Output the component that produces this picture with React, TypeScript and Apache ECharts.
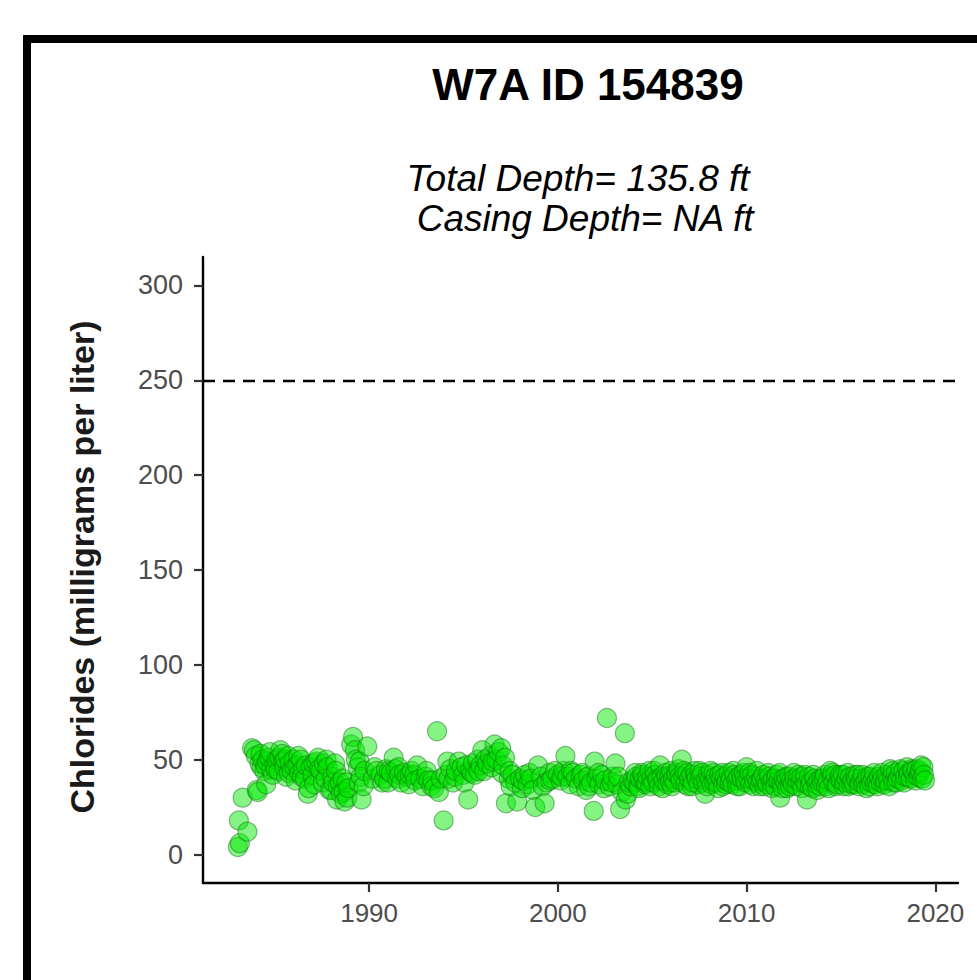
import React, { useEffect, useRef } from "react";
import * as echarts from "echarts";

const chartTitle = "W7A ID 154839";
const subtitleLines = ["Total Depth= 135.8 ft", " Casing Depth= NA ft"];
const yAxisTitle = "Chlorides (milligrams per liter)";
const xTickValues = [1990, 2000, 2010, 2020];
const yTickValues = [0, 50, 100, 150, 200, 250, 300];
const xRange = [1981.2, 2021.2];
const yRange = [-15, 315];
const thresholdValue = 250;

// [decimal year, chlorides mg/L]
const samples1983to1990 = [
  [1983.05, 4], [1983.15, 6], [1983.1, 18], [1983.55, 12], [1983.3, 30],
  [1983.8, 56], [1983.9, 55], [1984.0, 52], [1984.05, 34], [1984.1, 33],
  [1984.2, 48], [1984.25, 53], [1984.3, 46], [1984.35, 50], [1984.45, 44],
  [1984.5, 47], [1984.55, 37], [1984.6, 49], [1984.7, 51], [1984.75, 54],
  [1984.8, 45], [1984.9, 42], [1985.0, 47], [1985.05, 45], [1985.1, 50],
  [1985.2, 44], [1985.25, 51], [1985.3, 55], [1985.4, 53], [1985.45, 49],
  [1985.5, 46], [1985.55, 50], [1985.6, 41], [1985.7, 52], [1985.75, 43],
  [1985.8, 48], [1985.9, 44], [1986.0, 50], [1986.05, 46], [1986.1, 39],
  [1986.2, 47], [1986.25, 52], [1986.3, 43], [1986.4, 50], [1986.45, 41],
  [1986.5, 45], [1986.6, 40], [1986.65, 47], [1986.75, 32], [1986.8, 35],
  [1986.9, 46], [1987.0, 42], [1987.05, 48], [1987.1, 37], [1987.2, 49],
  [1987.3, 51], [1987.35, 45], [1987.45, 44], [1987.55, 38], [1987.6, 48],
  [1987.7, 40], [1987.75, 50], [1987.8, 46], [1987.9, 34], [1988.0, 34],
  [1988.05, 41], [1988.1, 38], [1988.2, 48], [1988.25, 44], [1988.3, 29],
  [1988.35, 36], [1988.45, 38], [1988.5, 32], [1988.6, 40], [1988.65, 33],
  [1988.7, 28], [1988.8, 38], [1988.85, 30], [1988.9, 35], [1989.05, 58],
  [1989.15, 62], [1989.25, 55], [1989.3, 50], [1989.4, 46], [1989.45, 38],
  [1989.5, 49], [1989.55, 41], [1989.6, 29], [1989.7, 36], [1989.75, 44],
  [1989.9, 57],
];

const samples1990to2004 = [
  [1990.2, 40], [1990.3, 46], [1990.4, 44], [1990.6, 42], [1990.7, 38],
  [1990.8, 40], [1990.9, 45], [1991.0, 38], [1991.05, 44], [1991.15, 43],
  [1991.3, 51], [1991.4, 45], [1991.5, 40], [1991.55, 46], [1991.6, 42],
  [1991.7, 38], [1991.85, 43], [1992.0, 41], [1992.1, 37], [1992.15, 42],
  [1992.25, 44], [1992.4, 42], [1992.45, 39], [1992.55, 47], [1992.7, 40],
  [1992.85, 36], [1993.0, 41], [1993.05, 44], [1993.15, 39], [1993.3, 36],
  [1993.35, 39], [1993.45, 35], [1993.6, 65], [1993.7, 33], [1993.8, 40],
  [1993.95, 18], [1994.05, 42], [1994.15, 49], [1994.2, 40], [1994.3, 45],
  [1994.45, 38], [1994.55, 41], [1994.6, 44], [1994.75, 49], [1994.9, 46],
  [1995.0, 42], [1995.05, 38], [1995.15, 47], [1995.25, 29], [1995.35, 44],
  [1995.45, 43], [1995.5, 48], [1995.6, 42], [1995.75, 50], [1995.8, 44],
  [1995.9, 47], [1996.0, 55], [1996.1, 44], [1996.15, 50], [1996.25, 48],
  [1996.4, 52], [1996.5, 46], [1996.55, 49], [1996.65, 58], [1996.75, 50],
  [1996.85, 54], [1997.0, 56], [1997.05, 43], [1997.1, 47], [1997.2, 51],
  [1997.25, 27], [1997.4, 40], [1997.45, 44], [1997.5, 36], [1997.6, 42],
  [1997.75, 38], [1997.85, 28], [1998.0, 40], [1998.1, 35], [1998.15, 39],
  [1998.25, 42], [1998.4, 37], [1998.5, 43], [1998.55, 40], [1998.7, 34],
  [1998.8, 25], [1998.95, 47], [1999.1, 41], [1999.2, 36], [1999.3, 27],
  [1999.4, 38], [1999.55, 43], [1999.6, 39], [1999.7, 40], [1999.85, 44],
  [2000.0, 42], [2000.15, 39], [2000.2, 41], [2000.3, 44], [2000.4, 52],
  [2000.5, 41], [2000.65, 37], [2000.7, 44], [2000.8, 43], [2000.95, 40],
  [2001.1, 36], [2001.2, 42], [2001.3, 43], [2001.35, 39], [2001.5, 34],
  [2001.6, 41], [2001.65, 36], [2001.75, 38], [2001.9, 23], [2001.95, 49],
  [2002.05, 40], [2002.15, 43], [2002.2, 37], [2002.35, 42], [2002.45, 35],
  [2002.5, 39], [2002.6, 72], [2002.75, 36], [2002.85, 38], [2002.9, 41],
  [2003.05, 48], [2003.15, 37], [2003.2, 41], [2003.3, 24], [2003.4, 33],
  [2003.55, 64], [2003.6, 29], [2003.7, 32], [2003.75, 38], [2003.85, 36],
  [2003.95, 39],
];

const samples2004to2020 = [
  [2004.05, 38], [2004.1, 43], [2004.15, 41], [2004.25, 36], [2004.3, 35],
  [2004.35, 40], [2004.45, 43], [2004.5, 42], [2004.55, 39], [2004.65, 37],
  [2004.7, 38], [2004.75, 41], [2004.85, 44], [2004.9, 36], [2004.95, 40],
  [2005.05, 38], [2005.1, 44], [2005.15, 42], [2005.25, 40], [2005.3, 39],
  [2005.35, 36], [2005.42, 47], [2005.5, 41], [2005.55, 35], [2005.6, 39],
  [2005.7, 43], [2005.75, 41], [2005.8, 37], [2005.9, 41], [2005.95, 38],
  [2006.0, 44], [2006.05, 36], [2006.1, 40], [2006.2, 38], [2006.25, 43],
  [2006.3, 42], [2006.4, 45], [2006.45, 41], [2006.5, 39], [2006.57, 50],
  [2006.65, 41], [2006.7, 44], [2006.75, 37], [2006.85, 43], [2006.9, 36],
  [2006.95, 40], [2007.05, 42], [2007.1, 36], [2007.15, 38], [2007.25, 44],
  [2007.3, 42], [2007.35, 40], [2007.45, 37], [2007.5, 44], [2007.55, 41],
  [2007.65, 43], [2007.7, 38], [2007.8, 32], [2007.85, 39], [2007.9, 36],
  [2007.95, 42], [2008.05, 40], [2008.1, 44], [2008.15, 37], [2008.25, 43],
  [2008.3, 38], [2008.35, 41], [2008.45, 38], [2008.5, 35], [2008.55, 42],
  [2008.65, 40], [2008.7, 43], [2008.75, 36], [2008.85, 41], [2008.9, 37],
  [2008.95, 39], [2009.05, 43], [2009.1, 38], [2009.15, 40], [2009.25, 37],
  [2009.3, 44], [2009.35, 42], [2009.45, 39], [2009.5, 36], [2009.55, 41],
  [2009.65, 36], [2009.7, 42], [2009.75, 40], [2009.85, 43], [2009.9, 40],
  [2009.95, 38], [2010.0, 46], [2010.1, 40], [2010.15, 43], [2010.2, 37],
  [2010.3, 42], [2010.35, 36], [2010.4, 39], [2010.5, 41], [2010.55, 44],
  [2010.6, 38], [2010.7, 36], [2010.75, 39], [2010.8, 40], [2010.9, 42],
  [2010.95, 36], [2011.0, 39], [2011.1, 37], [2011.15, 43], [2011.2, 41],
  [2011.3, 38], [2011.35, 35], [2011.4, 40], [2011.5, 36], [2011.55, 40],
  [2011.6, 42], [2011.7, 39], [2011.75, 43], [2011.78, 30], [2011.85, 37],
  [2011.9, 35], [2011.95, 40], [2012.05, 38], [2012.1, 41], [2012.15, 35],
  [2012.25, 41], [2012.3, 36], [2012.35, 39], [2012.45, 37], [2012.5, 43],
  [2012.55, 40], [2012.65, 36], [2012.7, 39], [2012.75, 42], [2012.85, 38],
  [2012.9, 41], [2012.95, 35], [2013.05, 39], [2013.1, 42], [2013.15, 37],
  [2013.2, 29], [2013.3, 41], [2013.35, 36], [2013.4, 38], [2013.5, 35],
  [2013.55, 42], [2013.6, 40], [2013.7, 37], [2013.75, 34], [2013.8, 39],
  [2013.9, 36], [2013.95, 40], [2014.0, 38], [2014.1, 40], [2014.15, 42],
  [2014.2, 36], [2014.3, 39], [2014.35, 35], [2014.43, 44], [2014.5, 41],
  [2014.55, 43], [2014.6, 38], [2014.7, 42], [2014.75, 36], [2014.8, 37],
  [2014.9, 40], [2014.95, 42], [2015.0, 39], [2015.1, 42], [2015.15, 36],
  [2015.2, 38], [2015.3, 40], [2015.35, 43], [2015.4, 36], [2015.5, 41],
  [2015.55, 37], [2015.6, 39], [2015.7, 37], [2015.75, 42], [2015.8, 40],
  [2015.9, 42], [2015.95, 36], [2016.0, 38], [2016.1, 40], [2016.15, 42],
  [2016.2, 37], [2016.3, 39], [2016.35, 35], [2016.4, 41], [2016.5, 36],
  [2016.55, 41], [2016.6, 38], [2016.7, 40], [2016.75, 43], [2016.8, 37],
  [2016.9, 39], [2016.95, 36], [2017.0, 41], [2017.1, 38], [2017.15, 43],
  [2017.2, 40], [2017.3, 37], [2017.35, 39], [2017.4, 42], [2017.5, 39],
  [2017.55, 36], [2017.6, 45], [2017.7, 41], [2017.75, 44], [2017.8, 38],
  [2017.9, 43], [2017.95, 38], [2018.0, 40], [2018.1, 42], [2018.15, 45],
  [2018.2, 39], [2018.3, 44], [2018.35, 38], [2018.4, 41], [2018.5, 46],
  [2018.55, 41], [2018.6, 43], [2018.7, 40], [2018.75, 45], [2018.8, 44],
  [2018.9, 42], [2018.95, 39], [2019.0, 45], [2019.1, 41], [2019.15, 43],
  [2019.2, 44], [2019.25, 47], [2019.3, 40], [2019.37, 46], [2019.4, 42],
  [2019.45, 39],
];

const FONT = "'Liberation Sans', Arial, Helvetica, sans-serif";

export default function App() {
  const ref = useRef<HTMLDivElement | null>(null);

  useEffect(() => {
    if (!ref.current) return;
    const chart = echarts.init(ref.current, undefined, { renderer: "svg" });
    const allSamples = [...samples1983to1990, ...samples1990to2004, ...samples2004to2020];

    chart.setOption({
      animation: false,
      backgroundColor: "#ffffff",
      grid: { left: 203, right: 19, top: 257, bottom: 97, containLabel: false, outerBoundsMode: "none" },
      graphic: [
        {
          type: "rect",
          shape: { x: 27, y: 39, width: 1000, height: 1000 },
          style: { fill: "none", stroke: "#000", lineWidth: 8 },
          silent: true,
        },
        {
          type: "text",
          x: 588,
          y: 84,
          style: {
            text: chartTitle,
            fontSize: 44,
            fontWeight: "bold",
            fontFamily: FONT,
            fill: "#000",
            align: "center",
            verticalAlign: "middle",
          },
        },
        {
          type: "text",
          x: 578,
          y: 178,
          style: {
            text: subtitleLines[0],
            fontSize: 37,
            fontStyle: "italic",
            fontFamily: FONT,
            fill: "#000",
            align: "center",
            verticalAlign: "middle",
          },
        },
        {
          type: "text",
          x: 580,
          y: 218,
          style: {
            text: subtitleLines[1],
            fontSize: 37,
            fontStyle: "italic",
            fontFamily: FONT,
            fill: "#000",
            align: "center",
            verticalAlign: "middle",
          },
        },
        {
          type: "text",
          x: 82,
          y: 567,
          rotation: Math.PI / 2,
          style: {
            text: yAxisTitle,
            fontSize: 34,
            fontWeight: "bold",
            fontFamily: FONT,
            fill: "#1a1a1a",
            align: "center",
            verticalAlign: "middle",
          },
        },
      ],
      xAxis: {
        type: "value",
        min: xRange[0],
        max: xRange[1],
        axisLine: { show: true, onZero: false, lineStyle: { color: "#000", width: 2.4 } },
        axisTick: { show: true, length: 9, customValues: xTickValues, lineStyle: { color: "#333", width: 2.2 } },
        axisLabel: {
          customValues: xTickValues,
          formatter: (v: number) => String(v),
          fontSize: 26,
          color: "#4d4d4d",
          margin: 17,
          fontFamily: FONT,
        },
        splitLine: { show: false },
      },
      yAxis: {
        type: "value",
        min: yRange[0],
        max: yRange[1],
        axisLine: { show: true, onZero: false, lineStyle: { color: "#000", width: 2.4 } },
        axisTick: { show: true, length: 9, customValues: yTickValues, lineStyle: { color: "#333", width: 2.2 } },
        axisLabel: {
          customValues: yTickValues,
          formatter: (v: number) => String(v),
          fontSize: 27,
          color: "#4d4d4d",
          margin: 20,
          fontFamily: FONT,
        },
        splitLine: { show: false },
      },
      series: [
        {
          type: "scatter",
          data: allSamples,
          symbol: "circle",
          symbolSize: 19,
          itemStyle: {
            color: "rgba(0, 232, 0, 0.6)",
            borderColor: "rgba(20, 110, 20, 0.6)",
            borderWidth: 1.2,
          },
          markLine: {
            silent: true,
            symbol: ["none", "none"],
            label: { show: false },
            lineStyle: { color: "#000", type: [12, 8], width: 2.4 },
            data: [{ yAxis: thresholdValue }],
          },
        },
      ],
    });

    return () => {
      chart.dispose();
    };
  }, []);

  return (
    <div
      ref={ref}
      style={{ position: "fixed", left: 0, top: 0, width: 977, height: 980, background: "#fff" }}
    />
  );
}
